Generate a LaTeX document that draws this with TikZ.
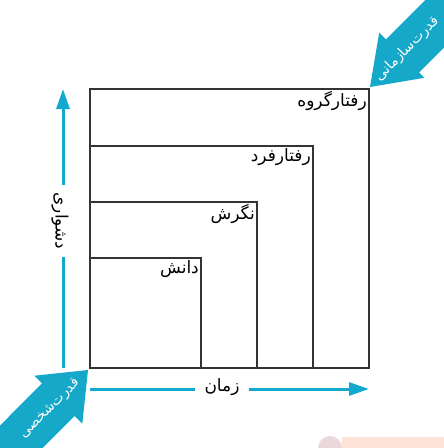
\documentclass[tikz,border=0pt]{standalone}
\usepackage{fontspec}
\usetikzlibrary{arrows.meta}
\TeXXeTstate=1
\newfontfamily\fa[Script=Arabic]{DejaVu Sans}
\definecolor{cyanA}{HTML}{12A9CF}
\definecolor{cyanB}{HTML}{15A8C9}
\definecolor{boxline}{HTML}{333333}
\begin{document}
\begin{tikzpicture}[x=1pt,y=-1pt,
  boxsq/.style={draw=boxline,line width=1.3pt},
  boxlab/.style={anchor=north east,inner sep=1pt,font=\fa\fontsize{17}{19}\selectfont,text=black},
  axlab/.style={inner sep=0pt,font=\fa\fontsize{17}{19}\selectfont,text=black},
  axline/.style={draw=cyanA,line width=3pt},
  axarrow/.style={axline,-{Triangle[width=13pt,length=20pt]}},
  bigarrow/.style={fill=cyanB,draw=none},
  biglab/.style={text=white,font=\fa\fontsize{14}{16}\selectfont,inner sep=0pt,rotate=45}
]
\useasboundingbox (0,0) rectangle (444,448);
% faint artifact bottom right
\fill[fill={rgb,255:red,233;green,216;blue,220}] (330,448) circle (12);
\fill[fill={rgb,255:red,253;green,227;blue,214}] (342,437) rectangle (444,448);
% boxes
\draw[boxsq] (90,368) rectangle (369,89);
\draw[boxsq] (90,368) rectangle (313,146);
\draw[boxsq] (90,368) rectangle (257,202);
\draw[boxsq] (90,368) rectangle (201,258);
\node[boxlab] (grp) at (368,90) {\beginR رفتارگروه\endR};
\node[boxlab] (ind) at (312,147) {\beginR رفتارفرد\endR};
\node[boxlab] (att) at (256,203) {\beginR نگرش\endR};
\node[boxlab] (know) at (200,259) {\beginR دانش\endR};
% axes
\coordinate (ybot) at (63,368);
\coordinate (ytop) at (63,89);
\node[axlab,rotate=-90,inner xsep=7pt] (diff) at (60,221) {\beginR دشواری\endR};
\draw[axline] (ybot) -- (ybot |- diff.east);
\draw[axarrow] (ytop |- diff.west) -- (ytop);
\coordinate (xl) at (90,389);
\coordinate (xr) at (369,389);
\node[axlab,inner xsep=9pt] (time) at (222,387) {\beginR زمان\endR};
\draw[axline] (xl) -- (xl -| time.west);
\draw[axarrow] (xl -| time.east) -- (xr);
% big arrows
\begin{scope}
\clip (0,0) rectangle (444,448);
% bottom-left (personal power)
\fill[bigarrow] (88,370) -- (82.3,423.7) -- (74.6,416) -- (3.9,486.7) -- (-28.6,454.2) -- (42,383.4) -- (34.3,375.7) -- cycle;
\node[biglab] (pers) at (50,409) {\beginR قدرت‌شخصی\endR};
% top-right (organizational power)
\fill[bigarrow] (370,87) -- (379.2,32.6) -- (386,39.4) -- (456.7,-31.3) -- (489.8,1.8) -- (419.1,72.5) -- (424.4,77.8) -- cycle;
\node[biglab] (org) at (407,49) {\beginR قدرت‌سازمانی\endR};
\end{scope}
\end{tikzpicture}
\end{document}
